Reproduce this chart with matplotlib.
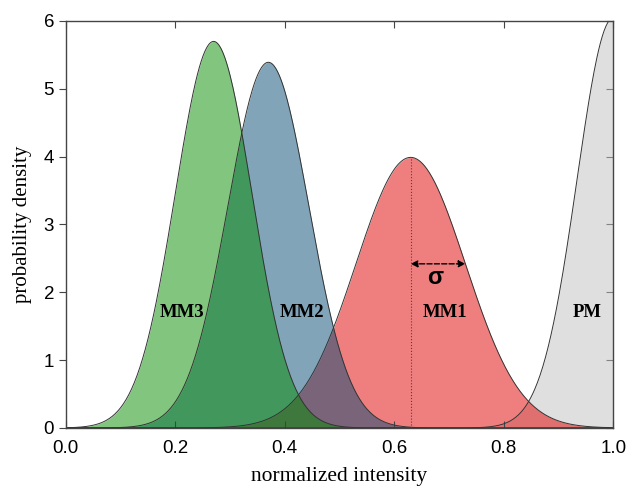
import numpy as np
import matplotlib
matplotlib.use("Agg")
import matplotlib.pyplot as plt

# gaussian components: mean and width
names = ["PM", "MM1", "MM2", "MM3"]
means = [1.00, 0.63, 0.37, 0.27]
sigmas = [0.066, 0.10, 0.074, 0.070]
colors = ["#c1c1c1", "#e10000", "#054b75", "#048d00"]
label_x = [0.952, 0.693, 0.431, 0.212]
label_y = [1.70, 1.70, 1.70, 1.70]

x = np.linspace(0, 1, 600)

fig = plt.figure(figsize=(6.27, 4.88), dpi=100)
ax = fig.add_axes([0.105, 0.123, 0.873, 0.834])

for name, mu, s, c in zip(names, means, sigmas, colors):
    y = np.exp(-0.5 * ((x - mu) / s) ** 2) / (s * np.sqrt(2 * np.pi))
    ax.fill_between(x, 0, y, color=c, alpha=0.5, lw=0)
    ax.plot(x, y, color="#333333", lw=0.7)

for name, lx, ly in zip(names, label_x, label_y):
    ax.text(lx, ly, name, ha="center", va="center", fontsize=13.5,
            fontweight="bold", family="Liberation Serif")

# sigma marker on MM1
mu1, s1 = means[1], sigmas[1]
peak1 = 1 / (s1 * np.sqrt(2 * np.pi))
ax.plot([mu1, mu1], [0, peak1], color="#444444", lw=0.8, ls=":")
ya = peak1 * np.exp(-0.5)
ax.annotate("", xy=(mu1 + s1, ya), xytext=(mu1, ya),
            arrowprops=dict(arrowstyle="<|-|>", color="black", lw=1, ls="--",
                            mutation_scale=10, shrinkA=0, shrinkB=0))
ax.text(mu1 + s1 / 2 - 0.005, ya - 0.2, "σ", ha="center", va="center", fontsize=17,
        fontweight="bold", family="Liberation Sans")

ax.set_xlim(0, 1)
ax.set_ylim(0, 6)
ax.set_xticks(np.arange(0, 1.01, 0.2))
ax.set_xticklabels([f"{v:.1f}" for v in np.arange(0, 1.01, 0.2)])
ax.set_yticks(range(7))
for lab in ax.get_xticklabels() + ax.get_yticklabels():
    lab.set_family("Liberation Sans")
    lab.set_fontsize(13.5)
ax.tick_params(axis="x", direction="in", length=5, top=True, color="#444444", pad=9)
ax.tick_params(axis="y", direction="out", length=5, color="#444444")
for sp in ax.spines.values():
    sp.set_color("#444444")
    sp.set_linewidth(1)
ax2 = ax.secondary_yaxis("right")
ax2.set_yticks(range(7))
ax2.tick_params(direction="in", length=5, color="#444444", labelright=False)
ax2.spines["right"].set_visible(False)

ax.set_xlabel("normalized intensity", family="Liberation Serif", fontsize=15.5, labelpad=7)
ax.set_ylabel("probability density", family="Liberation Serif", fontsize=15, labelpad=8)

fig.savefig("out.png", dpi=100)
